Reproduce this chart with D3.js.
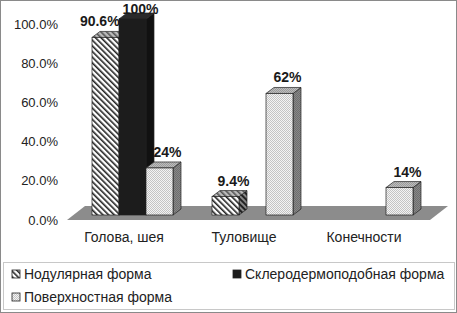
<!DOCTYPE html>
<html>
<head>
<meta charset="utf-8">
<script src="https://cdn.jsdelivr.net/npm/d3@7"></script>
<style>
  body { margin: 0; background: #fff; }
  svg { display: block; font-family: "Liberation Sans", Arial, sans-serif; }
</style>
</head>
<body>
<div id="chart"></div>
<script>
const categories = ['Голова, шея', 'Туловище', 'Конечности']
const series = ['Нодулярная форма', 'Склеродермоподобная форма', 'Поверхностная форма']
const nodular = [90.6, 9.4, null]
const sclero = [100, null, null]
const surface = [24, 62, 14]
const valueLabels = [['90.6%', '9.4%', null], ['100%', null, null], ['24%', '62%', '14%']]
const yTicks = [0, 20, 40, 60, 80, 100]

const values = [nodular, sclero, surface]

const width = 457, height = 313

let svg = d3.select('#chart').append('svg')
  .attr('width', width)
  .attr('height', height)

let defs = svg.append('defs')

// diagonal hatch "\\\"
function hatch(id, bg, fg, sw) {
  let p = defs.append('pattern')
    .attr('id', id)
    .attr('patternUnits', 'userSpaceOnUse')
    .attr('width', 4).attr('height', 4)
    .attr('patternTransform', 'rotate(-45)')
  p.append('rect').attr('width', 4).attr('height', 4).attr('fill', bg)
  p.append('rect').attr('x', 0).attr('width', sw).attr('height', 4).attr('fill', fg)
}
// checker-ish dot texture
function dots(id, bg, fg) {
  let p = defs.append('pattern')
    .attr('id', id)
    .attr('patternUnits', 'userSpaceOnUse')
    .attr('width', 2).attr('height', 2)
  p.append('rect').attr('width', 2).attr('height', 2).attr('fill', bg)
  p.append('rect').attr('width', 1).attr('height', 1).attr('fill', fg)
  p.append('rect').attr('x', 1).attr('y', 1).attr('width', 1).attr('height', 1).attr('fill', fg)
}
hatch('hFront', '#fff', '#222', 1.6)
hatch('hSide', '#888', '#222', 2)
hatch('hTop', '#bbb', '#555', 1.6)
dots('dFront', '#f4f4f4', '#c4c4c4')
dots('dSide', '#888', '#6e6e6e')
dots('dTop', '#bdbdbd', '#9a9a9a')

const fills = [
  { front: 'url(#hFront)', side: 'url(#hSide)', top: 'url(#hTop)' },
  { front: '#1c1c1c', side: '#111', top: '#2a2a2a' },
  { front: 'url(#dFront)', side: 'url(#dSide)', top: 'url(#dTop)' }
]

// outer frame
svg.append('rect')
  .attr('x', 0.5).attr('y', 0.5)
  .attr('width', width - 1).attr('height', height - 1)
  .attr('fill', 'none').attr('stroke', '#8a8a8a')

let x0 = d3.scaleBand().domain(categories).range([74, 434]).paddingInner(0)
let x1 = d3.scaleBand().domain(series).range([18, 99])
let y = d3.scaleLinear().domain([0, 100]).range([220, 24])

const barLift = 5       // bars stand a little behind the floor's front edge
const dx = 8, dy = -6   // bar depth
const fdx = 18, fdy = -14 // floor depth

// floor
let fx0 = 67, fx1 = 430, fy = y(0)
svg.append('path')
  .attr('d', `M${fx0},${fy}L${fx1},${fy}L${fx1 + fdx},${fy + fdy}L${fx0 + fdx},${fy + fdy}Z`)
  .attr('fill', '#8c8c8c')

// y axis labels
svg.append('g')
  .attr('transform', 'translate(58,0)')
  .call(d3.axisLeft(y).tickValues(yTicks).tickFormat(d => d3.format('.1f')(d) + '%').tickSize(0).tickPadding(0))
  .call(g => g.select('.domain').remove())
  .call(g => g.selectAll('text').attr('font-size', 13).attr('fill', '#222').attr('font-family', 'Liberation Sans, Arial, sans-serif'))

// bars
let barsGroup = svg.append('g')
let labels = []
categories.forEach((c, ci) => {
  series.forEach((s, si) => {
    let v = values[si][ci]
    if (v == null) return
    let bx = x0(c) + x1(s)
    let bw = x1.bandwidth()
    let by0 = y(0) - barLift
    let by = y(v) - barLift
    let g = barsGroup.append('g')
    g.append('path')
      .attr('d', `M${bx + bw},${by}L${bx + bw + dx},${by + dy}L${bx + bw + dx},${by0 + dy}L${bx + bw},${by0}Z`)
      .attr('fill', fills[si].side).attr('stroke', '#222').attr('stroke-width', 0.7)
    g.append('path')
      .attr('d', `M${bx},${by}L${bx + dx},${by + dy}L${bx + bw + dx},${by + dy}L${bx + bw},${by}Z`)
      .attr('fill', fills[si].top).attr('stroke', '#222').attr('stroke-width', 0.7)
    g.append('rect')
      .attr('x', bx).attr('y', by).attr('width', bw).attr('height', by0 - by)
      .attr('fill', fills[si].front).attr('stroke', '#222').attr('stroke-width', 0.7)
    labels.push({ ci, text: valueLabels[si][ci], x: bx + bw / 2 + 8, y: Math.max(14, by - 11) })
  })
})

// data labels, nudged left when they collide inside a group
let labelGroup = svg.append('g')
let nodes = labels.map(l => {
  let t = labelGroup.append('text')
    .attr('x', l.x).attr('y', l.y)
    .attr('text-anchor', 'middle')
    .attr('font-size', 14).attr('font-weight', 'bold').attr('fill', '#1a1a1a')
    .text(l.text)
  return { l, t, w: t.node().getComputedTextLength() }
})
for (let i = nodes.length - 2; i >= 0; i--) {
  let a = nodes[i], b = nodes[i + 1]
  if (a.l.ci !== b.l.ci) continue
  let overlapX = (a.l.x + a.w / 2) - (b.l.x - b.w / 2)
  if (overlapX > 0 && Math.abs(a.l.y - b.l.y) < 14) {
    a.l.x -= overlapX + 3
    a.t.attr('x', a.l.x)
  }
}

// category labels
svg.append('g')
  .selectAll('text')
  .data(categories)
  .enter()
  .append('text')
  .attr('x', d => x0(d) + x0.bandwidth() / 2 - 10)
  .attr('y', 242)
  .attr('text-anchor', 'middle')
  .attr('font-size', 14).attr('fill', '#222')
  .text(d => d)

// legend
svg.append('rect')
  .attr('x', 3.5).attr('y', 262.5)
  .attr('width', 451).attr('height', 47)
  .attr('fill', '#fff').attr('stroke', '#c8c8c8')

const legendPos = [[12, 274], [233, 274], [12, 297]]
let legend = svg.append('g')
series.forEach((s, si) => {
  let [lx, ly] = legendPos[si]
  legend.append('rect')
    .attr('x', lx).attr('y', ly - 4).attr('width', 8).attr('height', 8)
    .attr('fill', fills[si].front).attr('stroke', '#222').attr('stroke-width', 0.8)
  legend.append('text')
    .attr('x', lx + 12).attr('y', ly + 5)
    .attr('font-size', 14).attr('fill', '#222')
    .text(s)
})
</script>
</body>
</html>
